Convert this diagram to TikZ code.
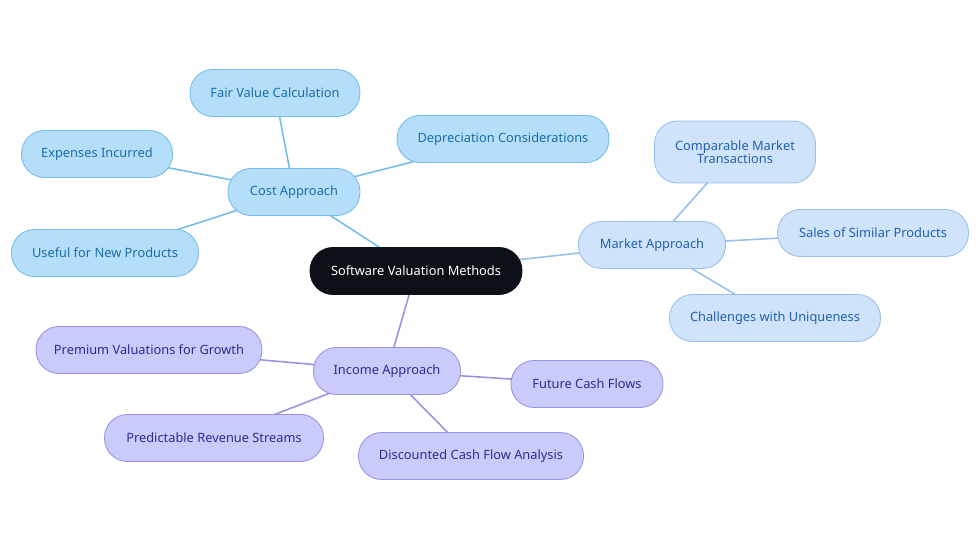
\documentclass[tikz,border=0pt]{standalone}
\usepackage{fontspec}
\setmainfont{Noto Sans}
\usepackage{xcolor}
\usepackage{tikz}
\usetikzlibrary{backgrounds}

\definecolor{rootfill}{HTML}{0D1117}
\definecolor{costfill}{HTML}{B5DEFA}
\definecolor{costline}{HTML}{76BDEA}
\definecolor{costtext}{HTML}{1B6DA6}
\definecolor{mktfill}{HTML}{CFE3FA}
\definecolor{mktline}{HTML}{98C0EA}
\definecolor{mkttext}{HTML}{2260AE}
\definecolor{incfill}{HTML}{CACBFB}
\definecolor{incline}{HTML}{9A94E0}
\definecolor{inctext}{HTML}{2E2B8E}

\begin{document}
\begin{tikzpicture}[x=0.02cm,y=-0.02cm,font=\fontsize{7.3}{8.6}\selectfont]
    \tikzset{
      pill/.style={draw, line width=0.5pt, rounded corners=0.46cm, align=center, minimum height=0.94cm, inner sep=2pt},
      root/.style={pill, draw=rootfill, fill=rootfill, text=white},
      costbox/.style={pill, draw=costline, fill=costfill, text=costtext},
      mktbox/.style={pill, draw=mktline, fill=mktfill, text=mkttext},
      incbox/.style={pill, draw=incline, fill=incfill, text=inctext},
      link/.style={line width=0.9pt}
    }
    \useasboundingbox (0,0) rectangle (980,553);

    \node[root, minimum width=4.24cm] (methods) at (416,271) {Software Valuation Methods};

    \node[costbox, minimum width=2.64cm] (cost) at (294,192) {Cost Approach};
    \node[costbox, minimum width=3.40cm] (fair) at (275,93) {Fair Value Calculation};
    \node[costbox, minimum width=4.24cm] (deprec) at (503,139) {Depreciation Considerations};
    \node[costbox, minimum width=3.02cm] (expenses) at (97,154) {Expenses Incurred};
    \node[costbox, minimum width=3.74cm] (useful) at (105,253) {Useful for New Products};

    \node[mktbox, minimum width=2.94cm] (market) at (652,245) {Market Approach};
    \node[mktbox, minimum width=3.22cm, minimum height=1.24cm] (compar) at (735,152)
      {Comparable Market\\[-1pt]Transactions};
    \node[mktbox, minimum width=3.82cm] (sales) at (873,233) {Sales of Similar Products};
    \node[mktbox, minimum width=4.22cm] (unique) at (775,318) {Challenges with Uniqueness};

    \node[incbox, minimum width=2.94cm] (income) at (387,371) {Income Approach};
    \node[incbox, minimum width=4.52cm] (premium) at (149,350) {Premium Valuations for Growth};
    \node[incbox, minimum width=3.04cm] (future) at (587,384) {Future Cash Flows};
    \node[incbox, minimum width=4.38cm] (predict) at (214,438) {Predictable Revenue Streams};
    \node[incbox, minimum width=4.50cm] (dcf) at (471,456) {Discounted Cash Flow Analysis};

    \begin{scope}[on background layer]
      \draw[link, costline] (methods.center) -- (cost.center);
      \foreach \leaf in {fair,deprec,expenses,useful}
        \draw[link, costline] (cost.center) -- (\leaf.center);
      \draw[link, mktline] (methods.center) -- (market.center);
      \foreach \leaf in {compar,sales,unique}
        \draw[link, mktline] (market.center) -- (\leaf.center);
      \draw[link, incline] (methods.center) -- (income.center);
      \foreach \leaf in {premium,future,predict,dcf}
        \draw[link, incline] (income.center) -- (\leaf.center);
    \end{scope}
  \end{tikzpicture}
\end{document}
